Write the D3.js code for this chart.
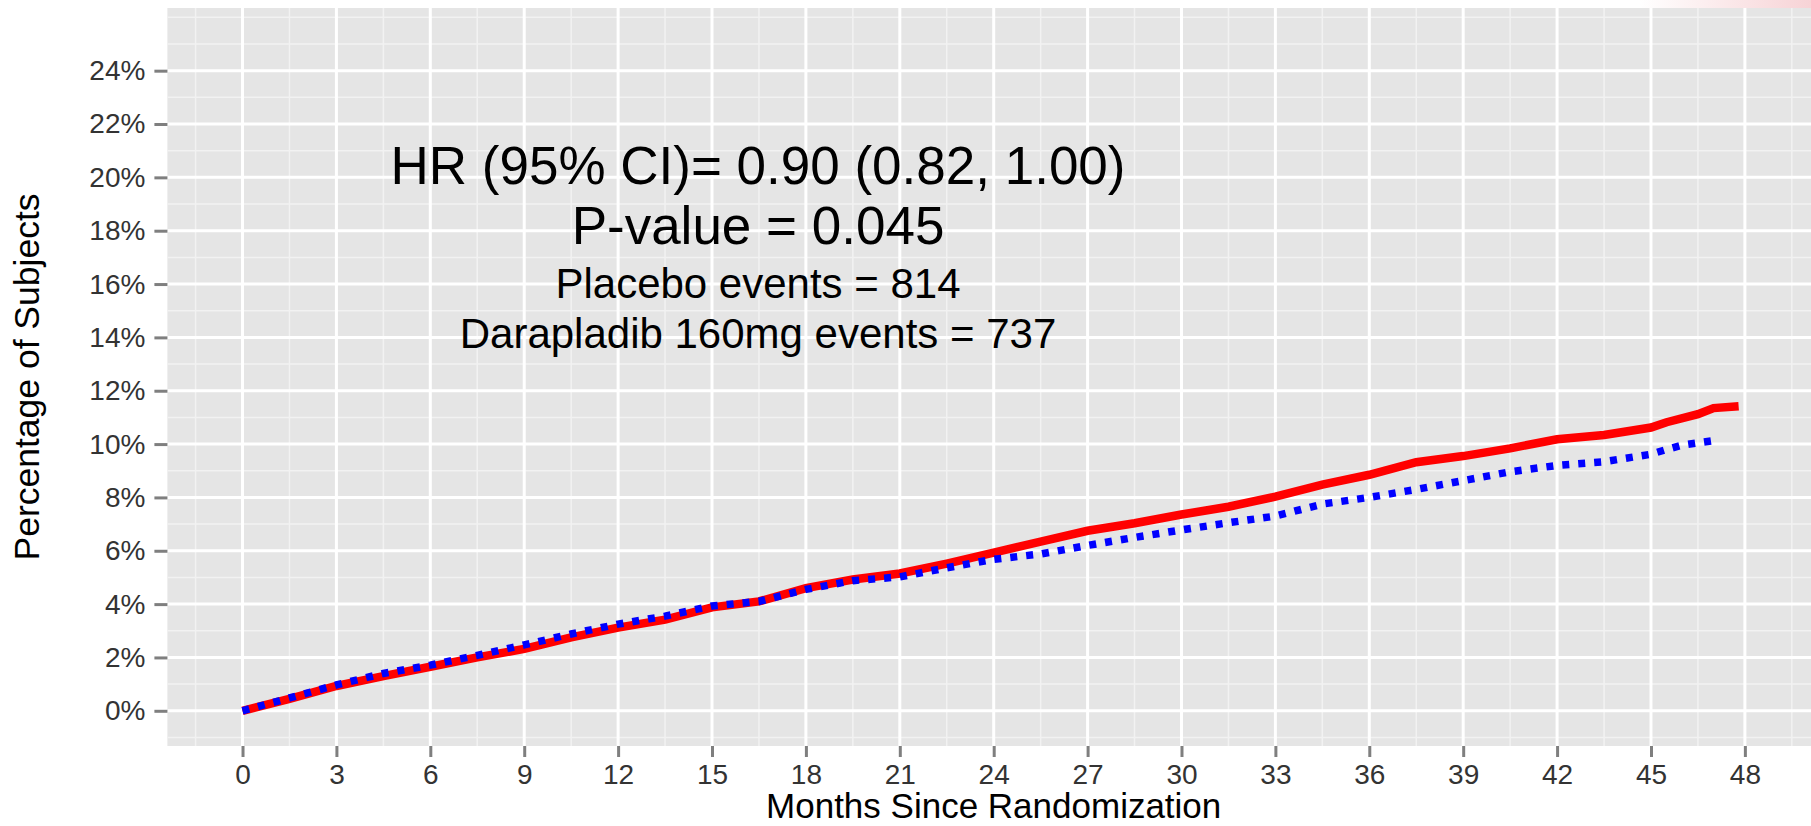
<!DOCTYPE html>
<html>
<head>
<meta charset="utf-8">
<script src="https://cdn.jsdelivr.net/npm/d3@7"></script>
<style>
  html, body { margin: 0; padding: 0; background: #fff; }
  svg { display: block; font-family: "Liberation Sans", Arial, sans-serif; }
</style>
</head>
<body>
<script>
// months and cumulative % of subjects with an event
const placeboMonths = [0, 1.5, 3, 4.5, 6, 7.5, 9, 10.5, 12, 13.5, 15, 16.5, 18, 19.5, 21, 22.5, 24, 25.5, 27, 28.5, 30, 31.5, 33, 34.5, 36, 37.5, 39, 40.5, 42, 43.5, 45, 45.5, 46.5, 47, 47.8];
const placeboPct = [0, 0.45, 0.93, 1.3, 1.65, 2.0, 2.32, 2.75, 3.12, 3.42, 3.88, 4.1, 4.6, 4.92, 5.15, 5.52, 5.93, 6.34, 6.75, 7.03, 7.36, 7.65, 8.03, 8.48, 8.85, 9.32, 9.55, 9.84, 10.18, 10.34, 10.62, 10.82, 11.12, 11.35, 11.42];
const darapladibMonths = [0, 1.5, 3, 4.5, 6, 7.5, 9, 10.5, 12, 13.5, 15, 16.5, 18, 19.5, 21, 22.5, 24, 25.5, 27, 28.5, 30, 31.5, 33, 34.5, 36, 37.5, 39, 40.5, 42, 43.5, 45, 45.5, 46, 47.1];
const darapladibPct = [0, 0.48, 0.97, 1.4, 1.71, 2.08, 2.47, 2.88, 3.25, 3.55, 3.93, 4.1, 4.55, 4.88, 5.02, 5.36, 5.68, 5.88, 6.2, 6.5, 6.78, 7.05, 7.3, 7.75, 8.0, 8.3, 8.63, 8.96, 9.2, 9.34, 9.62, 9.8, 9.96, 10.15];

const xTicks = [0, 3, 6, 9, 12, 15, 18, 21, 24, 27, 30, 33, 36, 39, 42, 45, 48];
const yTicks = [0, 2, 4, 6, 8, 10, 12, 14, 16, 18, 20, 22, 24];
const notes = [
  "HR (95% CI)= 0.90 (0.82, 1.00)",
  "P-value = 0.045",
  "Placebo events = 814",
  "Darapladib 160mg events = 737"
];

const W = 1811, H = 826;
const panel = {left: 167.4, right: 1820, top: 8, bottom: 746};

const svg = d3.select("body").append("svg")
  .attr("width", W)
  .attr("height", H);

// faint slide decoration in the top-right corner
const grad = svg.append("defs").append("linearGradient")
  .attr("id", "pinkfade").attr("x1", "0%").attr("x2", "100%");
grad.append("stop").attr("offset", "0%").attr("stop-color", "#fff");
grad.append("stop").attr("offset", "100%").attr("stop-color", "#f7d3d6");
svg.append("rect").attr("x", 1640).attr("y", 0).attr("width", W - 1640).attr("height", 8)
  .attr("fill", "url(#pinkfade)");

svg.append("clipPath").attr("id", "panelclip").append("rect")
  .attr("x", panel.left).attr("y", panel.top)
  .attr("width", panel.right - panel.left).attr("height", panel.bottom - panel.top);

const x = d3.scaleLinear().domain([-2.4, 50.4]).range([panel.left, panel.right]);
const y = d3.scaleLinear().domain([-1.32, 26.35]).range([panel.bottom, panel.top]);

svg.append("rect")
  .attr("x", panel.left).attr("y", panel.top)
  .attr("width", panel.right - panel.left).attr("height", panel.bottom - panel.top)
  .attr("fill", "#e5e5e5");

const grid = svg.append("g").attr("clip-path", "url(#panelclip)");

// minor grid: half-way between breaks, one step past each end
const xMinor = d3.range(-3, 51.01, 1.5).filter(v => xTicks.indexOf(v) < 0);
const yMinor = d3.range(-2, 26.01, 1).filter(v => yTicks.indexOf(v) < 0);

grid.selectAll(".xminor").data(xMinor).join("line")
  .attr("x1", d => x(d)).attr("x2", d => x(d))
  .attr("y1", panel.top).attr("y2", panel.bottom)
  .attr("stroke", "#f2f2f2").attr("stroke-width", 1.5);
grid.selectAll(".yminor").data(yMinor).join("line")
  .attr("y1", d => y(d)).attr("y2", d => y(d))
  .attr("x1", panel.left).attr("x2", panel.right)
  .attr("stroke", "#f2f2f2").attr("stroke-width", 1.5);
grid.selectAll(".xmajor").data(xTicks).join("line")
  .attr("x1", d => x(d)).attr("x2", d => x(d))
  .attr("y1", panel.top).attr("y2", panel.bottom)
  .attr("stroke", "#fff").attr("stroke-width", 3);
grid.selectAll(".ymajor").data(yTicks).join("line")
  .attr("y1", d => y(d)).attr("y2", d => y(d))
  .attr("x1", panel.left).attr("x2", panel.right)
  .attr("stroke", "#fff").attr("stroke-width", 3);

// axes
const xAxis = d3.axisBottom(x).tickValues(xTicks).tickSize(11).tickPadding(7);
const yAxis = d3.axisLeft(y).tickValues(yTicks).tickSize(13).tickPadding(9)
  .tickFormat(d => d + "%");

const gx = svg.append("g").attr("transform", `translate(0,${panel.bottom})`).call(xAxis);
const gy = svg.append("g").attr("transform", `translate(${panel.left},0)`).call(yAxis);

[gx, gy].forEach(g => {
  g.select(".domain").remove();
  g.selectAll(".tick line").attr("stroke", "#7f7f7f").attr("stroke-width", 3);
  g.selectAll(".tick text")
    .attr("fill", "#333")
    .style("font-family", "'Liberation Sans', Arial, sans-serif")
    .style("font-size", "28px");
});

// curves
const linePath = (xs, ys) => d3.line()
  .x((d, i) => x(xs[i]))
  .y((d, i) => y(ys[i]))(ys);

const lines = svg.append("g").attr("clip-path", "url(#panelclip)");
lines.append("path")
  .attr("d", linePath(placeboMonths, placeboPct))
  .attr("fill", "none")
  .attr("stroke", "#ff0000")
  .attr("stroke-width", 8.5)
  .attr("stroke-linejoin", "miter");
lines.append("path")
  .attr("d", linePath(darapladibMonths, darapladibPct))
  .attr("fill", "none")
  .attr("stroke", "#0000ff")
  .attr("stroke-width", 7.5)
  .attr("stroke-dasharray", "7,9");

// annotation block
const noteY = [184, 244, 298, 348];
const noteSize = [53, 53, 42, 42];
svg.selectAll(".note").data(notes).join("text")
  .attr("x", 758)
  .attr("y", (d, i) => noteY[i])
  .attr("text-anchor", "middle")
  .attr("fill", "#000")
  .style("font-size", (d, i) => noteSize[i] + "px")
  .text(d => d);

// axis titles
svg.append("text")
  .attr("x", (panel.left + panel.right) / 2)
  .attr("y", 817.5)
  .attr("text-anchor", "middle")
  .style("font-size", "35px")
  .text("Months Since Randomization");

svg.append("text")
  .attr("transform", `translate(39,${(panel.top + panel.bottom) / 2}) rotate(-90)`)
  .attr("text-anchor", "middle")
  .style("font-size", "35.5px")
  .text("Percentage of Subjects");
</script>
</body>
</html>
